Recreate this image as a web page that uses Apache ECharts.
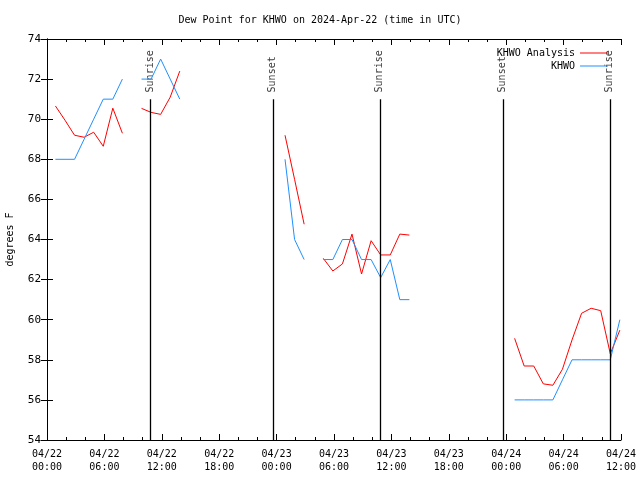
<!DOCTYPE html>
<html>
<head>
<meta charset="utf-8">
<script src="https://cdn.jsdelivr.net/npm/echarts@6/dist/echarts.min.js"></script>
<style>html,body{margin:0;padding:0;background:#fff}#c{width:640px;height:480px}</style>
</head>
<body>
<div id="c"></div>
<script>
// hours since 2024-04-22 00:00 UTC
const obsHours = [0.88,1.88,2.88,3.88,4.88,5.88,6.88,7.88,8.88,9.88,10.88,11.88,12.88,13.88,14.88,15.88,16.88,17.88,18.88,19.88,20.88,21.88,22.88,23.88,24.88,25.88,26.88,27.88,28.88,29.88,30.88,31.88,32.88,33.88,34.88,35.88,36.88,37.88,38.88,39.88,40.88,41.88,42.88,43.88,44.88,45.88,46.88,47.88,48.88,49.88,50.88,51.88,52.88,53.88,54.88,55.88,56.88,57.88,58.88,59.88];
const analysisValues = [70.66,69.95,69.2,69.1,69.35,68.65,70.55,69.3,null,70.54,70.34,70.24,71.1,72.4,
  null,null,null,null,null,null,null,null,null,null,
  69.2,67.0,64.76,null,63.06,62.43,62.78,64.27,62.28,63.94,63.23,63.23,64.27,64.22,
  null,null,null,null,null,null,null,null,null,null,
  59.07,57.69,57.69,56.8,56.73,57.53,58.99,60.32,60.57,60.45,58.3,59.48];
const observedValues = [68,68,68,69,70,71,71,72,null,72,72,73,72,71,
  null,null,null,null,null,null,null,null,null,null,
  68,64,63,null,63,63,64,64,63,63,62.1,63,61,61,
  null,null,null,null,null,null,null,null,null,null,
  56,56,56,56,56,57,58,58,58,58,58,60];
const sunTimes = [10.84, 23.62, 34.81, 47.66, 58.85];
const sunLabels = ['Sunrise','Sunset','Sunrise','Sunset','Sunrise'];
const yTicks = [54,56,58,60,62,64,66,68,70,72,74];

const FONT = 'DejaVu Sans Mono';
const pair = (xs, ys) => xs.map((x, i) => [x, ys[i]]);
function xLabel(h) {
  const day = 22 + Math.floor(h / 24);
  const hh = h % 24;
  return '04/' + day + '\n' + String(hh).padStart(2, '0') + ':00';
}
const chart = echarts.init(document.getElementById('c'), null, {renderer: 'canvas'});
const tickCommon = {
  axisLine: {show: true, lineStyle: {color: '#000', width: 1}},
  splitLine: {show: false}
};
const legendCommon = {
  right: 27, align: 'right', itemWidth: 28, itemHeight: 1, itemGap: 6,
  textStyle: {fontFamily: FONT, fontSize: 10, color: '#000'}
};
chart.setOption({
  animation: false,
  backgroundColor: '#fff',
  title: {
    text: 'Dew Point for KHWO on 2024-Apr-22 (time in UTC)',
    left: 'center', top: 10,
    textStyle: {fontFamily: FONT, fontSize: 10, fontWeight: 'normal', color: '#000'}
  },
  legend: [
    Object.assign({data: [{name: 'KHWO Analysis', icon: 'rect'}], top: 43}, legendCommon),
    Object.assign({data: [{name: 'KHWO', icon: 'rect'}], top: 56}, legendCommon)
  ],
  grid: {left: 47, right: 19, top: 39, bottom: 40, containLabel: false, outerBoundsMode: 'none'},
  xAxis: [
    Object.assign({
      type: 'value', min: 0, max: 60, interval: 6, position: 'bottom',
      axisTick: {show: true, inside: true, length: 6, lineStyle: {color: '#000'}},
      minorTick: {show: true, splitNumber: 3, length: 3, lineStyle: {color: '#000'}},
      axisLabel: {formatter: xLabel, fontFamily: FONT, fontSize: 10, color: '#000', margin: 8, lineHeight: 13}
    }, tickCommon),
    Object.assign({
      type: 'value', min: 0, max: 60, interval: 6, position: 'top',
      axisTick: {show: true, inside: true, length: 6, lineStyle: {color: '#000'}},
      minorTick: {show: true, splitNumber: 3, length: 3, lineStyle: {color: '#000'}},
      axisLabel: {show: false}
    }, tickCommon)
  ],
  yAxis: [
    Object.assign({
      type: 'value', min: yTicks[0], max: yTicks[yTicks.length - 1], interval: 2, position: 'left',
      name: 'degrees F', nameLocation: 'middle', nameGap: 32, nameRotate: 90,
      nameTextStyle: {fontFamily: FONT, fontSize: 10, color: '#000'},
      axisTick: {show: true, inside: true, length: 6, lineStyle: {color: '#000'}},
      axisLabel: {fontFamily: FONT, fontSize: 11, color: '#000', margin: 6}
    }, tickCommon),
    Object.assign({
      type: 'value', min: yTicks[0], max: yTicks[yTicks.length - 1], interval: 2, position: 'right',
      axisTick: {show: true, inside: true, length: 6, lineStyle: {color: '#000'}},
      axisLabel: {show: false}
    }, tickCommon)
  ],
  series: [
    {
      name: 'KHWO Analysis', type: 'line', data: pair(obsHours, analysisValues),
      symbol: 'none', connectNulls: false, color: '#ff0000',
      lineStyle: {color: '#ff0000', width: 1}
    },
    {
      name: 'KHWO', type: 'line', data: pair(obsHours, observedValues),
      symbol: 'none', connectNulls: false, color: '#1e90ff',
      lineStyle: {color: '#1e90ff', width: 1}
    },
    {
      name: 'sun', type: 'scatter', symbolSize: 1, itemStyle: {color: 'rgba(0,0,0,0)'}, silent: true,
      data: sunTimes.map((t, i) => ({value: [t, 71.31], name: sunLabels[i]})),
      label: {
        show: true, formatter: p => p.name, rotate: 90, position: [0, 0],
        align: 'left', verticalAlign: 'middle',
        fontFamily: FONT, fontSize: 10, color: '#000'
      },
      markLine: {
        silent: true, symbol: 'none', animation: false,
        lineStyle: {color: '#000', width: 1.3, type: 'solid'},
        label: {show: false},
        data: sunTimes.map(t => [{coord: [t, 71.0]}, {coord: [t, 54]}])
      }
    }
  ]
});
</script>
</body>
</html>
